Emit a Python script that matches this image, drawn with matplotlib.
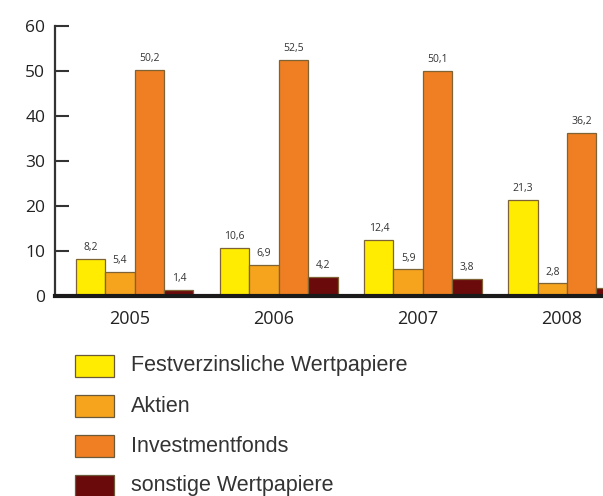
import matplotlib
matplotlib.use("Agg")
import matplotlib.pyplot as plt
from matplotlib.patches import Rectangle
from matplotlib.transforms import ScaledTranslation
import numpy as np

years = ["2005", "2006", "2007", "2008"]
series_names = ["Festverzinsliche Wertpapiere", "Aktien", "Investmentfonds", "sonstige Wertpapiere"]
festverzinslich = [8.2, 10.6, 12.4, 21.3]
aktien = [5.4, 6.9, 5.9, 2.8]
investmentfonds = [50.2, 52.5, 50.1, 36.2]
sonstige = [1.4, 4.2, 3.8, 1.8]
colors = ["#FFEC00", "#F6A31E", "#EF7F22", "#6A0A0B"]
y_ticks = [0, 10, 20, 30, 40, 50, 60]

plt.rcParams['font.family'] = ['Liberation Sans', 'DejaVu Sans']
W, H = 603, 496
fig = plt.figure(figsize=(W / 100, H / 100), dpi=100)
ax = fig.add_axes([55 / W, 1 - 296 / H, (603 - 55) / W, (296 - 26) / H])

all_series = [festverzinslich, aktien, investmentfonds, sonstige]
x = np.arange(len(years))
w = 0.204
xmax = 3.25
for i, (vals, c) in enumerate(zip(all_series, colors)):
    pos = x + (i - 1.5) * w
    ax.bar(pos, vals, width=w, color=c, edgecolor="#7d6335", linewidth=0.9, zorder=2)
    for p, v in zip(pos, vals):
        if p > xmax:
            continue  # label falls outside the visible area (cut off in the original)
        ax.text(p, v + 1.3, f"{v:.1f}".replace(".", ","), ha="center", va="bottom",
                fontsize=7.5, color="#333333", family=["Open Sans", "DejaVu Sans"])

ax.set_xlim(-0.553, xmax)
ax.set_ylim(0, 60)
ax.set_yticks(y_ticks)
ax.set_yticklabels([str(t) for t in y_ticks], fontsize=12.5, color="#222222",
                   family=["Open Sans", "DejaVu Sans"])
ax.set_xticks(x)
ax.set_xticklabels(years, fontsize=13, color="#222222", family=["Open Sans", "DejaVu Sans"])
ax.tick_params(axis="x", length=0, pad=10)
ax.tick_params(axis="y", direction="in", length=10, width=1.5, color="#333333", pad=7)
offset = ScaledTranslation(-5 / 100, 0, fig.dpi_scale_trans)
for lbl in ax.get_xticklabels():
    lbl.set_transform(lbl.get_transform() + offset)
for s in ["top", "right"]:
    ax.spines[s].set_visible(False)
ax.spines["left"].set_color("#333333")
ax.spines["left"].set_linewidth(1.6)
ax.spines["bottom"].set_color("#1a1a1a")
ax.spines["bottom"].set_linewidth(3)
ax.spines["bottom"].set_zorder(3)

# legend
rows_y = [366, 406, 446, 486]
for name, c, yc in zip(series_names, colors, rows_y):
    fig.add_artist(Rectangle((75 / W, 1 - (yc + 11) / H), 39 / W, 22 / H,
                             transform=fig.transFigure, facecolor=c,
                             edgecolor="#6b5a3a", linewidth=0.9))
    fig.text(131 / W, 1 - yc / H, name, ha="left", va="center", fontsize=15.5, color="#333333")

fig.savefig("out.png", dpi=100)
